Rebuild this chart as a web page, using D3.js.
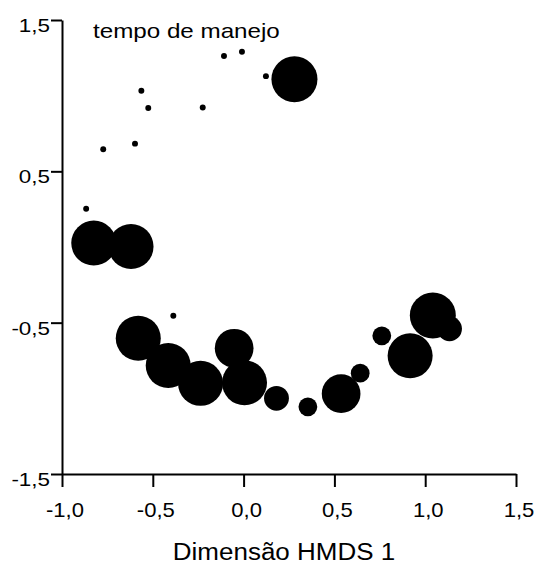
<html>
<head>
  <script src="https://cdn.jsdelivr.net/npm/d3@7"></script>
  <style>
    body { margin: 0; background: #fff; }
    text { font-family: Arial, "Liberation Sans", sans-serif; fill: #000; }
    .axis path, .axis line { stroke: #000; stroke-width: 2; }
  </style>
</head>
<body>
<script>
// HMDS coordinates and tempo de manejo (bubble size)
var dim1 = [-0.867, -0.773, -0.598, -0.563, -0.525, -0.225, -0.108, -0.009, 0.123, 0.280,
            -0.825, -0.620, -0.387, -0.580, -0.415, -0.237, -0.052, 0.005, 0.181, 0.354,
            0.537, 0.642, 0.761, 0.917, 1.042, 1.134];
var dim2 = [0.253, 0.646, 0.683, 1.032, 0.919, 0.922, 1.262, 1.290, 1.129, 1.109,
            0.026, 0.003, -0.454, -0.603, -0.783, -0.901, -0.669, -0.897, -1.000, -1.056,
            -0.969, -0.834, -0.587, -0.719, -0.452, -0.540];
var tempo = [0.4, 0.4, 0.4, 0.4, 0.4, 0.4, 0.4, 0.4, 0.4, 24,
             23, 23, 0.4, 23, 23, 23, 17, 23, 7, 4,
             17, 4, 4, 23, 24, 7];

var xTicks = [-1.0, -0.5, 0.0, 0.5, 1.0, 1.5];
var yTicks = [-1.5, -0.5, 0.5, 1.5];

var width = 540, height = 570;

var svg = d3.select("body").append("svg")
  .attr("width", width)
  .attr("height", height);

var x = d3.scaleLinear().domain([-1, 1.5]).range([62, 516]);
var y = d3.scaleLinear().domain([-1.5, 1.5]).range([474, 20]);
var r = d3.scaleSqrt().domain([0, 24]).range([0, 23]);

var fmt = function(d) { return d3.format(".1f")(d).replace(".", ",").replace("−", "-"); };

var points = dim1.map(function(d, i) { return { x: d, y: dim2[i], t: tempo[i] }; });

svg.append("g")
  .selectAll("circle")
  .data(points)
  .enter()
  .append("circle")
  .attr("cx", d => x(d.x))
  .attr("cy", d => y(d.y))
  .attr("r", d => r(d.t))
  .attr("fill", "#000");

// y axis
var yAxis = svg.append("g").attr("class", "axis")
  .attr("transform", "translate(62,0)")
  .call(d3.axisLeft(y).tickValues(yTicks).tickSize(11).tickSizeOuter(0).tickFormat(""));
yAxis.selectAll(".tick text").remove();

yTicks.forEach(function(t) {
  svg.append("text")
    .attr("transform", "translate(50," + (y(t) + 12) + ") scale(1.18,1)")
    .attr("text-anchor", "end")
    .style("font-size", "19px")
    .text(fmt(t));
});

// x axis
var xAxis = svg.append("g").attr("class", "axis")
  .attr("transform", "translate(0,474)")
  .call(d3.axisBottom(x).tickValues(xTicks).tickSize(13).tickSizeOuter(0).tickFormat(""));
xAxis.selectAll(".tick text").remove();

xTicks.forEach(function(t) {
  svg.append("text")
    .attr("transform", "translate(" + (x(t) + 3) + ",517) scale(1.05,1)")
    .attr("text-anchor", "middle")
    .style("font-size", "21px")
    .text(fmt(t));
});

svg.append("text")
  .attr("transform", "translate(284,560) scale(1.13,1)")
  .attr("text-anchor", "middle")
  .style("font-size", "23px")
  .text("Dimensão HMDS 1");

svg.append("text")
  .attr("transform", "translate(93,37.5) scale(1.18,1)")
  .style("font-size", "20.5px")
  .text("tempo de manejo");
</script>
</body>
</html>
